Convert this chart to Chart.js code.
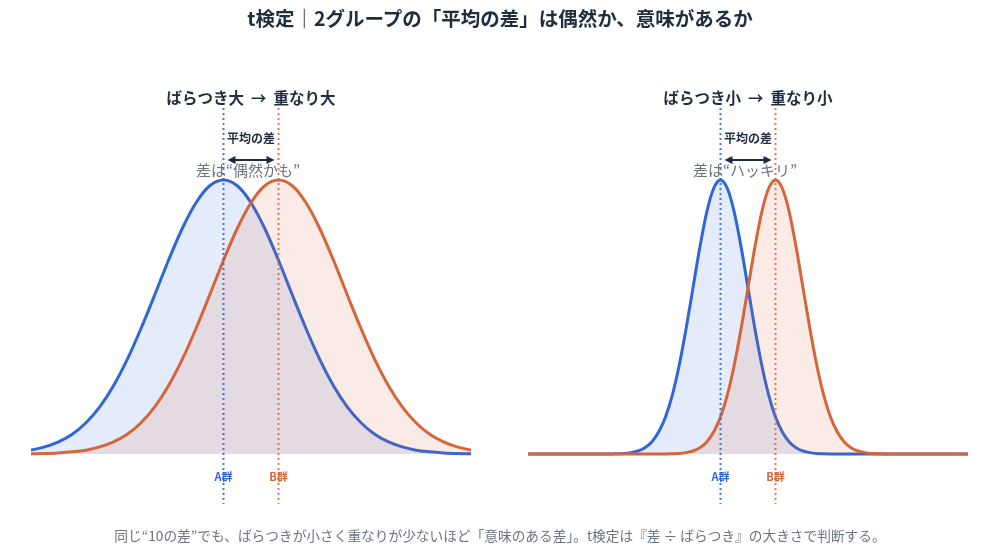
<!DOCTYPE html>
<html><head><meta charset="utf-8">
<script src="https://cdn.jsdelivr.net/npm/chart.js@4.4.1/dist/chart.umd.min.js"></script>
<style>
html,body{margin:0;padding:0;background:#fff;width:1000px;height:551px;overflow:hidden;font-family:"Noto Sans CJK JP","Noto Sans",sans-serif;}
#title{position:absolute;left:0;top:6px;width:1000px;text-align:center;font-size:19.5px;line-height:24px;font-weight:700;color:#1f2d3d;z-index:2}
#foot{position:absolute;left:0;top:526px;width:1000px;text-align:center;font-size:13.7px;line-height:18px;color:#6b7280;z-index:2}
canvas{position:absolute;top:0}
</style></head><body>
<canvas id="c1" width="500" height="551" style="left:0"></canvas>
<canvas id="c2" width="500" height="551" style="left:500px"></canvas>
<div id="title">t検定｜2グループの「平均の差」は偶然か、意味があるか</div>
<div id="foot">同じ“10の差”でも、ばらつきが小さく重なりが少ないほど「意味のある差」。t検定は『差 ÷ ばらつき』の大きさで判断する。</div>
<script>
// ---- data ----
const groupLabels = ['A群', 'B群'];
const means = [50, 60];
const panelTitles = ['ばらつき大  →  重なり大', 'ばらつき小  →  重なり小'];
const panelNotes = ['差は“偶然かも”', '差は“ハッキリ”'];
const diffLabel = '平均の差';

const leftX = [15,17.5,20,22.5,25,27.5,30,32.5,35,37.5,40,42.5,45,47.5,50,52.5,55,57.5,60,62.5,65,67.5,70,72.5,75,77.5,80,82.5,85,87.5,90,92.5,95];
const leftA = [0.014,0.026,0.044,0.072,0.114,0.172,0.249,0.345,0.458,0.581,0.707,0.823,0.917,0.979,1.000,0.979,0.917,0.823,0.707,0.581,0.458,0.345,0.249,0.172,0.114,0.072,0.044,0.026,0.014,0.008,0.004,0.002,0.001];
const leftB = [0.001,0.002,0.004,0.008,0.014,0.026,0.044,0.072,0.114,0.172,0.249,0.345,0.458,0.581,0.707,0.823,0.917,0.979,1.000,0.979,0.917,0.823,0.707,0.581,0.458,0.345,0.249,0.172,0.114,0.072,0.044,0.026,0.014];

const rightX = [15,30,31.25,32.5,33.75,35,36.25,37.5,38.75,40,41.25,42.5,43.75,45,46.25,47.5,48.75,50,51.25,52.5,53.75,55,56.25,57.5,58.75,60,61.25,62.5,63.75,65,66.25,67.5,68.75,70,71.25,72.5,73.75,75,76.25,77.5,78.75,80,95];
const rightA = [0,0.000,0.001,0.002,0.005,0.011,0.023,0.044,0.080,0.135,0.216,0.325,0.458,0.607,0.755,0.883,0.969,1.000,0.969,0.883,0.755,0.607,0.458,0.325,0.216,0.135,0.080,0.044,0.023,0.011,0.005,0.002,0.001,0.000,0,0,0,0,0,0,0,0,0];
const rightB = [0,0,0,0,0,0,0,0,0,0.000,0.001,0.002,0.005,0.011,0.023,0.044,0.080,0.135,0.216,0.325,0.458,0.607,0.755,0.883,0.969,1.000,0.969,0.883,0.755,0.607,0.458,0.325,0.216,0.135,0.080,0.044,0.023,0.011,0.005,0.002,0.001,0.000,0];

// ---- styles ----
const BLUE = '#2f66d8', ORANGE = '#d6653a';
const FONT = '"Noto Sans CJK JP","Noto Sans",sans-serif';

const annot = {
  id: 'annot',
  afterDatasetsDraw(chart, args, o) {
    const ctx = chart.ctx, xs = chart.scales.x;
    const xa = xs.getPixelForValue(means[0]), xb = xs.getPixelForValue(means[1]);
    const mid = (xa + xb) / 2;
    ctx.save();
    ctx.lineWidth = 2;
    ctx.setLineDash([2, 3]);
    [[xa, 'rgba(47,102,216,0.9)'], [xb, 'rgba(214,101,58,0.85)']].forEach(([x, c]) => {
      ctx.strokeStyle = c; ctx.beginPath(); ctx.moveTo(x, 103); ctx.lineTo(x, 504); ctx.stroke();
    });
    ctx.setLineDash([]);
    ctx.textAlign = 'center'; ctx.textBaseline = 'middle';
    ctx.fillStyle = '#1f2d3d';
    ctx.font = 'bold 15.5px ' + FONT;
    ctx.fillText(o.title, chart.chartArea.left + (chart.chartArea.right - chart.chartArea.left) / 2, 98);
    ctx.font = 'bold 12px ' + FONT;
    ctx.fillText(diffLabel, mid, 138);
    // arrow
    const x1 = xa + 4, x2 = xb - 4, y = 160;
    ctx.strokeStyle = '#1e2a44'; ctx.fillStyle = '#1e2a44'; ctx.lineWidth = 2;
    ctx.beginPath(); ctx.moveTo(x1 + 4, y); ctx.lineTo(x2 - 4, y); ctx.stroke();
    ctx.beginPath(); ctx.moveTo(x1, y); ctx.lineTo(x1 + 8, y - 4); ctx.lineTo(x1 + 8, y + 4); ctx.closePath(); ctx.fill();
    ctx.beginPath(); ctx.moveTo(x2, y); ctx.lineTo(x2 - 8, y - 4); ctx.lineTo(x2 - 8, y + 4); ctx.closePath(); ctx.fill();
    ctx.fillStyle = '#6b7280';
    ctx.font = '15px ' + FONT;
    ctx.fillText(o.note, mid - 3, 170);
    ctx.font = 'bold 11px ' + FONT;
    ctx.fillStyle = BLUE; ctx.fillText(groupLabels[0], xa, 477);
    ctx.fillStyle = ORANGE; ctx.fillText(groupLabels[1], xb, 477);
    ctx.restore();
  }
};

function makeChart(id, xv, a, b, title, note, padL, padR) {
  const ptsA = xv.map((x, i) => ({x, y: a[i]}));
  const ptsB = xv.map((x, i) => ({x, y: b[i]}));
  return new Chart(document.getElementById(id), {
    type: 'line',
    data: {
      datasets: [
        {label: groupLabels[1], data: ptsB, borderColor: ORANGE, backgroundColor: 'rgba(214,100,58,0.13)', fill: 'origin', borderWidth: 3, pointRadius: 0, cubicInterpolationMode: 'monotone', clip: false},
        {label: groupLabels[0], data: ptsA, borderColor: BLUE, backgroundColor: 'rgba(47,99,214,0.13)', fill: 'origin', borderWidth: 3, pointRadius: 0, cubicInterpolationMode: 'monotone', clip: false}
      ]
    },
    options: {
      responsive: false, animation: false,
      layout: {padding: {left: padL, right: padR, top: 180, bottom: 97}},
      plugins: {legend: {display: false}, tooltip: {enabled: false}, annot: {title, note}},
      scales: {
        x: {type: 'linear', min: 15, max: 95, display: false},
        y: {min: 0, max: 1, display: false}
      }
    },
    plugins: [annot]
  });
}
makeChart('c1', leftX, leftA, leftB, panelTitles[0], panelNotes[0], 31, 29);
makeChart('c2', rightX, rightA, rightB, panelTitles[1], panelNotes[1], 28, 32);
</script>
</body></html>
